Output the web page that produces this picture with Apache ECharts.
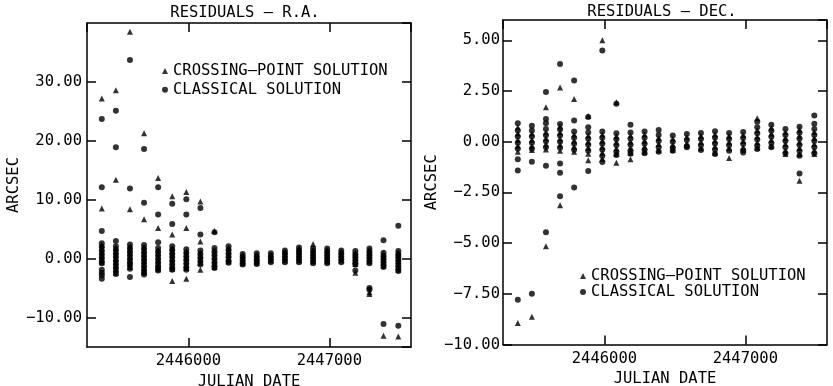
<!DOCTYPE html>
<html>
<head>
<meta charset="utf-8">
<script src="https://cdn.jsdelivr.net/npm/echarts@6/dist/echarts.min.js"></script>
<style>html,body{margin:0;padding:0;background:#fff}#c{width:833px;height:386px}</style>
</head>
<body>
<div id="c"></div>
<script>
// Observation epochs (Julian Date)
const epochs = [2445385, 2445485, 2445585, 2445685, 2445785, 2445885, 2445985, 2446085, 2446185, 2446285, 2446385,
  2446485, 2446585, 2446685, 2446785, 2446885, 2446985, 2447085, 2447185, 2447285, 2447385, 2447490];

// Residuals in R.A. (arcsec), per epoch
const raClassical = [
  [23.7, 12.1, 4.7, 2.6, 2.0, 1.4, 0.8, 0.2, -0.4, -0.8, -1.9, -2.4, -2.8, -3.4],
  [25.1, 18.9, 3.0, 2.1, 1.5, 0.9, 0.3, -0.3, -0.9, -1.5, -2.1, -2.6],
  [33.7, 11.9, 2.4, 1.8, 1.2, 0.6, 0.0, -0.6, -1.1, -1.7, -3.1],
  [18.6, 9.5, 2.3, 1.7, 1.1, 0.5, -0.1, -0.7, -1.3, -1.9, -2.4, -2.7],
  [12.1, 7.5, 2.8, 1.8, 1.2, 0.6, 0.0, -0.6, -1.2, -1.6, -2.0],
  [9.3, 5.9, 2.1, 1.5, 0.9, 0.3, -0.3, -0.9, -1.5, -1.9],
  [10.1, 7.5, 1.6, 1.0, 0.4, -0.2, -0.8, -1.4, -1.9],
  [8.6, 4.1, 1.4, 0.8, 0.2, -0.4, -1.0],
  [4.5, 1.8, 1.2, 0.6, 0.0, -0.6, -1.2, -1.6],
  [2.1, 1.5, 0.9, 0.3, -0.3, -0.7],
  [0.8, 0.3, -0.2, -0.7, -1.0],
  [0.9, 0.4, -0.1, -0.5, -0.9],
  [0.9, 0.4, -0.1, -0.6],
  [1.4, 0.9, 0.4, -0.1, -0.6],
  [1.9, 1.4, 0.9, 0.4, -0.1, -0.6],
  [1.7, 1.2, 0.7, 0.2, -0.3, -0.8],
  [1.7, 1.2, 0.7, 0.2, -0.3, -0.8],
  [1.4, 0.9, 0.4, -0.1, -0.6],
  [1.3, 0.8, 0.3, -0.2, -0.7, -1.0, -2.0],
  [1.7, 1.2, 0.7, 0.2, -0.3, -0.8, -5.0, -5.3],
  [3.1, 1.0, 0.5, 0.0, -0.5, -1.0, -1.4, -11.1],
  [5.6, 1.3, 0.8, 0.3, -0.2, -0.7, -1.2, -1.7, -2.1, -11.4]
];
const raCrossing = [
  [27.2, 8.5, 2.3, 1.7, 1.1, 0.5, -0.1, -0.6],
  [28.6, 13.4, 1.8, 1.2, 0.6, 0.0, -0.6, -1.2, -1.8, -2.4],
  [38.5, 8.4, 2.1, 1.5, 0.9, 0.3, -0.3, -0.9, -1.4],
  [21.3, 6.7, 2.0, 1.4, 0.8, 0.2, -0.4, -1.0, -1.6, -2.2],
  [13.7, 5.2, 1.5, 0.9, 0.3, -0.3, -0.9, -1.4, -1.8],
  [10.6, 4.1, 1.8, 1.2, 0.6, 0.0, -0.6, -1.2, -1.7, -3.8],
  [11.3, 5.2, 1.3, 0.7, 0.1, -0.5, -1.1, -1.6, -3.4],
  [9.7, 2.9, 1.1, 0.5, -0.1, -0.7, -1.9],
  [4.7, 1.5, 0.9, 0.3, -0.3, -0.9, -1.4],
  [1.8, 1.2, 0.6, 0.0, -0.5],
  [0.6, 0.1, -0.4, -0.8],
  [0.7, 0.2, -0.3, -0.7],
  [0.7, 0.2, -0.3],
  [1.2, 0.7, 0.2, -0.3],
  [1.7, 1.2, 0.7, 0.2, -0.3],
  [2.5, 1.5, 1.0, 0.5, 0.0, -0.5],
  [1.5, 1.0, 0.5, 0.0, -0.5],
  [1.2, 0.7, 0.2, -0.3],
  [1.1, 0.6, 0.1, -0.4, -0.9, -2.4],
  [1.5, 1.0, 0.5, 0.0, -0.5, -5.7, -6.0],
  [0.8, 0.3, -0.2, -0.7, -1.2, -13.1],
  [1.1, 0.6, 0.1, -0.4, -0.9, -1.4, -1.9, -13.2]
];

// Residuals in Dec. (arcsec), per epoch
const decClassical = [
  [0.91, 0.55, 0.25, -0.05, -0.35, -0.87, -1.42, -7.79],
  [0.78, 0.55, 0.25, -0.05, -0.35, -0.99, -7.50],
  [2.45, 1.12, 0.91, 0.62, 0.32, 0.02, -0.28, -1.19, -4.46],
  [3.83, 0.87, 0.6, 0.3, 0.0, -0.3, -1.07, -1.53, -2.69],
  [3.02, 1.04, 0.5, 0.2, -0.1, -0.4, -2.26],
  [1.22, 0.71, 0.45, 0.15, -0.15, -0.45, -1.45],
  [4.49, 0.5, 0.2, -0.1, -0.4, -0.7, -1.0],
  [1.87, 0.42, 0.12, -0.18, -0.48, -0.66],
  [0.83, 0.45, 0.15, -0.15, -0.45, -0.6],
  [0.5, 0.2, -0.1, -0.4, -0.57],
  [0.58, 0.33, 0.03, -0.27, -0.5],
  [0.3, 0.0, -0.3, -0.45],
  [0.38, 0.08, -0.22, -0.28],
  [0.43, 0.13, -0.17, -0.41],
  [0.51, 0.21, -0.09, -0.39, -0.61],
  [0.43, 0.13, -0.17, -0.45],
  [0.48, 0.18, -0.12, -0.42, -0.53],
  [0.98, 0.71, 0.41, 0.11, -0.19, -0.36],
  [0.84, 0.54, 0.24, -0.06, -0.28],
  [0.63, 0.33, 0.03, -0.27, -0.57],
  [0.74, 0.44, 0.14, -0.16, -0.46, -0.69, -1.57],
  [1.29, 0.88, 0.63, 0.33, 0.03, -0.27, -0.57]
];
const decCrossing = [
  [0.71, 0.4, 0.1, -0.2, -0.5, -8.94],
  [0.4, 0.1, -0.2, -0.41, -8.63],
  [1.70, 0.47, 0.17, -0.13, -0.38, -5.16],
  [2.67, 0.75, 0.45, 0.15, -0.15, -0.45, -3.13],
  [2.11, 0.35, 0.05, -0.25, -0.5],
  [1.27, 0.3, 0.0, -0.3, -0.6, -0.91],
  [5.0, 0.35, 0.05, -0.25, -0.55, -0.85],
  [1.95, 0.27, -0.03, -0.33, -0.6, -1.04],
  [0.3, 0.0, -0.3, -0.55, -0.87],
  [0.35, 0.05, -0.25, -0.5],
  [0.18, -0.12, -0.42],
  [0.15, -0.15, -0.4],
  [0.23, -0.07],
  [0.28, -0.02, -0.32],
  [0.36, 0.06, -0.24, -0.54],
  [0.28, -0.02, -0.32, -0.81],
  [0.33, 0.03, -0.27],
  [1.16, 0.56, 0.26, -0.04, -0.3],
  [0.69, 0.39, 0.09, -0.21],
  [0.48, 0.18, -0.12, -0.42, -0.61],
  [0.59, 0.29, -0.01, -0.31, -0.61, -1.93],
  [0.48, 0.18, -0.12, -0.42, -0.61]
];

// Axis ranges and tick steps
const xRange = [2445280, 2447580], xStep = 1000;
const raRange = [-15, 40], raStep = 10;
const decRange = [-10, 6], decStep = 2.5;
const nameCross = 'CROSSING—POINT SOLUTION';
const nameClass = 'CLASSICAL SOLUTION';

function pts(table) {
  const out = [];
  table.forEach((vals, i) => vals.forEach(v => out.push([epochs[i], v])));
  return out;
}

const FONT = 'DejaVu Sans Mono';
const txt = { fontFamily: FONT, fontSize: 15.5, color: '#000' };
const lineSt = { color: '#000', width: 1.5 };
const fmtY = v => v.toFixed(2).replace('-', '\u2212');

function xAx(grid, pos, labels) {
  return {
    type: 'value', gridIndex: grid, position: pos, min: xRange[0], max: xRange[1],
    minInterval: xStep, maxInterval: xStep, splitNumber: 2,
    axisLine: { show: true, onZero: false, lineStyle: lineSt },
    axisTick: { show: true, inside: true, length: 9, lineStyle: lineSt },
    axisLabel: labels ? Object.assign({ show: true, margin: 6, showMinLabel: false, showMaxLabel: false,
      formatter: v => String(v) }, txt) : { show: false },
    splitLine: { show: false },
    name: labels ? 'JULIAN DATE' : '', nameLocation: 'middle', nameGap: 21, nameTextStyle: txt
  };
}
function yAx(grid, pos, range, step, labels, gap, margin, showMin) {
  return {
    type: 'value', gridIndex: grid, position: pos, min: range[0], max: range[1],
    minInterval: step, maxInterval: step,
    axisLine: { show: true, onZero: false, lineStyle: lineSt },
    axisTick: { show: true, inside: true, length: 9, lineStyle: lineSt },
    axisLabel: labels ? Object.assign({ show: true, margin: margin, showMinLabel: showMin, showMaxLabel: false,
      formatter: fmtY }, txt) : { show: false },
    splitLine: { show: false },
    name: labels ? 'ARCSEC' : '', nameLocation: 'middle', nameGap: gap, nameTextStyle: txt
  };
}
function ser(name, sym, data, xi, yi) {
  return {
    name: name, type: 'scatter', symbol: sym, symbolSize: 6, data: data,
    xAxisIndex: xi, yAxisIndex: yi, itemStyle: { color: '#000' }, silent: true, animation: false
  };
}

const chart = echarts.init(document.getElementById('c'), null, { renderer: 'canvas' });
chart.setOption({
  animation: false,
  backgroundColor: '#fff',
  title: [
    { text: 'RESIDUALS — R.A.', left: 245, top: 5, textAlign: 'center', padding: 0,
      textStyle: Object.assign({ fontWeight: 'normal', lineHeight: 16 }, txt) },
    { text: 'RESIDUALS — DEC.', left: 662, top: 4, textAlign: 'center', padding: 0,
      textStyle: Object.assign({ fontWeight: 'normal', lineHeight: 16 }, txt) }
  ],
  legend: [
    { left: 162, top: 63, orient: 'vertical', itemWidth: 6, itemHeight: 6, itemGap: 2.8, padding: 0,
      selectedMode: false, textStyle: Object.assign({ lineHeight: 14 }, txt),
      data: [{ name: nameCross, icon: 'triangle' }, { name: nameClass, icon: 'circle' }] },
    { left: 580, top: 268, orient: 'vertical', itemWidth: 6, itemHeight: 6, itemGap: 0, padding: 0,
      selectedMode: false, textStyle: Object.assign({ lineHeight: 14 }, txt),
      data: [{ name: nameCross, icon: 'triangle' }, { name: nameClass, icon: 'circle' }] }
  ],
  grid: [
    { left: 87, top: 23, width: 324, height: 324, containLabel: false, outerBoundsMode: 'none' },
    { left: 503, top: 20, width: 324, height: 324.5, containLabel: false, outerBoundsMode: 'none' }
  ],
  xAxis: [xAx(0, 'bottom', true), xAx(0, 'top', false), xAx(1, 'bottom', true), xAx(1, 'top', false)],
  yAxis: [
    yAx(0, 'left', raRange, raStep, true, 64, 5, false), yAx(0, 'right', raRange, raStep, false, 0, 5, false),
    yAx(1, 'left', decRange, decStep, true, 60, 3, true), yAx(1, 'right', decRange, decStep, false, 0, 3, true)
  ],
  series: [
    ser(nameCross, 'triangle', pts(raCrossing), 0, 0),
    ser(nameClass, 'circle', pts(raClassical), 0, 0),
    ser(nameCross, 'triangle', pts(decCrossing), 2, 2),
    ser(nameClass, 'circle', pts(decClassical), 2, 2)
  ]
});
</script>
</body>
</html>
